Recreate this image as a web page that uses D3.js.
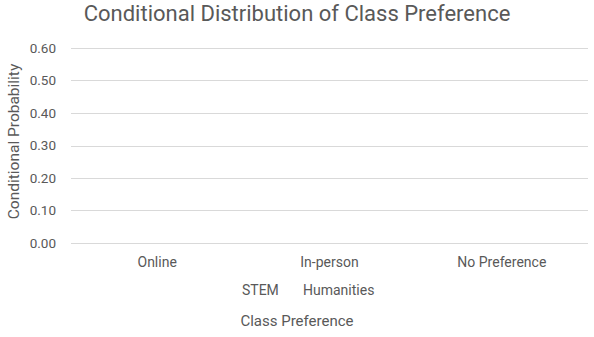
<!DOCTYPE html>
<html>
<head>
<meta charset="utf-8">
<script src="https://cdn.jsdelivr.net/npm/d3@7"></script>
<style>
  body { margin: 0; background: #fff; }
  text { font-family: Roboto, "Liberation Sans", sans-serif; fill: #595959; }
</style>
</head>
<body>
<svg id="chart" width="594" height="337"></svg>
<script>
// data: no bars are visible, so every value is 0
const categories = ['Online', 'In-person', 'No Preference'];
const seriesNames = ['STEM', 'Humanities'];
const stemValues = [0, 0, 0];
const humanitiesValues = [0, 0, 0];
const yTicks = [0, 0.1, 0.2, 0.3, 0.4, 0.5, 0.6];

const margin = { top: 48, right: 6, bottom: 94, left: 71 };
const width = 594 - margin.left - margin.right;
const height = 337 - margin.top - margin.bottom;

const svg = d3.select('#chart');
const g = svg.append('g')
  .attr('transform', 'translate(' + margin.left + ',' + margin.top + ')');

const x = d3.scaleBand().domain(categories).range([0, width]);
const xSeries = d3.scaleBand().domain(seriesNames).range([0, x.bandwidth()]).paddingInner(0.1).paddingOuter(0.8);
const y = d3.scaleLinear().domain([0, 0.6]).range([height, 0]);
const colors = d3.scaleOrdinal().domain(seriesNames).range(['#156082', '#e97132']);

// gridlines
g.append('g')
  .selectAll('line')
  .data(yTicks)
  .join('line')
  .attr('x1', 0)
  .attr('x2', width)
  .attr('y1', d => Math.round(y(d)) + 0.5)
  .attr('y2', d => Math.round(y(d)) + 0.5)
  .attr('stroke', '#d9d9d9')
  .attr('stroke-width', 1);

// y tick labels
g.append('g')
  .selectAll('text')
  .data(yTicks)
  .join('text')
  .attr('x', -15)
  .attr('y', d => y(d))
  .attr('dy', '0.35em')
  .attr('text-anchor', 'end')
  .style('font-size', '13.5px')
  .text(d => d3.format('.2f')(d));

// bars (zero height)
const rows = categories.map((c, i) => ({ cat: c, values: [stemValues[i], humanitiesValues[i]] }));
g.append('g')
  .selectAll('g')
  .data(rows)
  .join('g')
  .attr('transform', d => 'translate(' + x(d.cat) + ',0)')
  .selectAll('rect')
  .data(d => d.values.map((v, j) => ({ key: seriesNames[j], value: v })))
  .join('rect')
  .attr('x', d => xSeries(d.key))
  .attr('width', xSeries.bandwidth())
  .attr('y', d => y(d.value))
  .attr('height', d => height - y(d.value))
  .attr('fill', d => colors(d.key));

// category labels
g.append('g')
  .selectAll('text')
  .data(categories)
  .join('text')
  .attr('x', d => x(d) + x.bandwidth() / 2)
  .attr('y', height + 24)
  .attr('text-anchor', 'middle')
  .style('font-size', '14px')
  .text(d => d);

// title
svg.append('text')
  .attr('x', 297)
  .attr('y', 21)
  .attr('text-anchor', 'middle')
  .style('font-size', '22px')
  .text('Conditional Distribution of Class Preference');

// y axis title
svg.append('text')
  .attr('transform', 'translate(19,' + (margin.top + height / 2 - 4) + ') rotate(-90)')
  .attr('text-anchor', 'middle')
  .style('font-size', '15.5px')
  .text('Conditional Probability');

// x axis title
svg.append('text')
  .attr('x', 297)
  .attr('y', 326)
  .attr('text-anchor', 'middle')
  .style('font-size', '15px')
  .text('Class Preference');

// legend (series have no visible swatch in the picture)
const legendX = [242, 303];
svg.append('g')
  .selectAll('text')
  .data(seriesNames)
  .join('text')
  .attr('x', (d, i) => legendX[i])
  .attr('y', 295)
  .style('font-size', '14px')
  .text(d => d);
</script>
</body>
</html>
